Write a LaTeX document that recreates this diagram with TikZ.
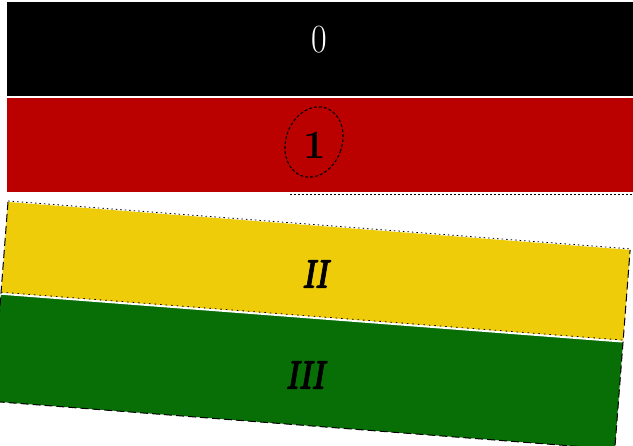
\documentclass[tikz,border=0pt]{standalone}
\usepackage{fontspec}
\newfontfamily\heavyit[FakeBold=2.5]{lmroman10-bolditalic.otf}
\usetikzlibrary{shapes.geometric}
\definecolor{bandred}{HTML}{BB0000}
\definecolor{bandyellow}{HTML}{EECC0A}
\definecolor{bandgreen}{HTML}{086E06}
\begin{document}
\begin{tikzpicture}[x=1pt,y=1pt,
  numlabel/.style={font=\fontsize{40}{40}\selectfont,inner sep=0pt}]
\useasboundingbox (0,0) rectangle (633,-446);
\clip (0,0) rectangle (633,-446);
% upright bands
\fill[black] (7,-2) rectangle (640,-96);
\fill[bandred] (7,-98) rectangle (640,-192);
\draw[white,line width=1.5pt] (7,-97) -- (640,-97);
\draw[black,line width=0.6pt,dash pattern=on 1.5pt off 2.5pt] (290,-194) -- (633,-194);
% tilted bands
\begin{scope}[shift={(8,-202)},rotate=-4.4]
  \fill[bandyellow] (0,0) rectangle (624,-92);
  \fill[bandgreen] (0,-92) rectangle (624,-200);
  \draw[white,line width=2pt] (0,-92) -- (624,-92);
  \draw[black,dash pattern=on 1.5pt off 3pt,line width=0.8pt] (0,1) -- (624,1);
  \draw[black,dash pattern=on 1.5pt off 4pt,line width=0.8pt] (0,-90.5) -- (624,-90.5);
  \draw[black,dash pattern=on 8pt off 4pt,line width=1pt] (0,0) -- (0,-200) -- (624,-200) -- (624,0);
\end{scope}
% labels
\node[numlabel,text=white,xscale=0.85] (l0) at (319,-40) {0};
\node[numlabel] (l1) at (315,-145) {\bfseries 1};
\node[draw=black,dash pattern=on 3pt off 2pt,line width=1.1pt,ellipse,rotate=-20,minimum width=56pt,minimum height=72pt] (c1) at (314,-142) {};
\node[numlabel,xscale=0.68] (l2) at (315,-274) {\heavyit II};
\node[numlabel,xscale=0.68] (l3) at (305,-375) {\heavyit III};
\end{tikzpicture}
\end{document}
